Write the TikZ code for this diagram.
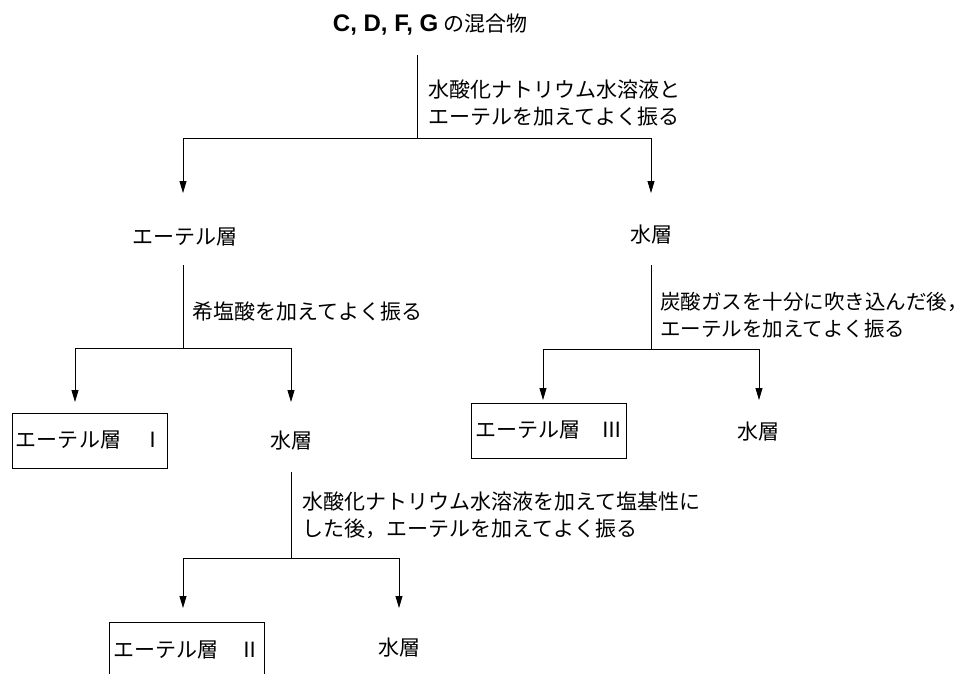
\documentclass[tikz,border=0pt]{standalone}
\usepackage{fontspec}
\setmainfont{Noto Sans CJK JP}
\newfontfamily\latinbold{Liberation Sans}
\usetikzlibrary{arrows.meta}
\begin{document}
\begin{tikzpicture}[x=1pt,y=-1pt,
  every node/.style={font=\fontsize{21}{27}\selectfont, inner sep=0pt},
  lab/.style={anchor=west, align=left},
  layerbox/.style={draw, line width=0.8pt, minimum width=155pt, minimum height=55pt},
  conn/.style={line width=0.8pt},
  arr/.style={conn, -{Triangle[length=12pt,width=7pt]}}]
\useasboundingbox (0,0) rectangle (973,673);
% nodes
\node (mix) at (430,25) {{\latinbold\bfseries\fontsize{24}{28}\selectfont C, D, F, G} の混合物};
\node[lab] (l1) at (428,103) {水酸化ナトリウム水溶液と\\エーテルを加えてよく振る};
\node (ether1) at (185,237) {エーテル層};
\node (water1) at (651,235) {水層};
\node[lab] (l2) at (192,311) {希塩酸を加えてよく振る};
\node[layerbox] (box1) at (89.5,440.5) {エーテル層　Ⅰ};
\node (water2) at (291,441) {水層};
\node[lab, font=\fontsize{20.5}{27}\selectfont] (l3) at (660,315) {炭酸ガスを十分に吹き込んだ後，\\エーテルを加えてよく振る};
\node[layerbox] (box3) at (548.5,430.5) {エーテル層　Ⅲ};
\node (water3) at (758,432) {水層};
\node[lab] (l4) at (302,515) {水酸化ナトリウム水溶液を加えて塩基性に\\した後，エーテルを加えてよく振る};
\node[layerbox, minimum height=56pt] (box2) at (187,650) {エーテル層　Ⅱ};
\node (water4) at (399,648) {水層};
% coordinates
\coordinate (s0) at (417,55);
\coordinate (j0) at (417,138);
\coordinate (e0a) at (183,193);
\coordinate (e0b) at (651,193);
\coordinate (s1) at (183,265);
\coordinate (j1) at (183,348);
\coordinate (e1a) at (75,402);
\coordinate (e1b) at (291,402);
\coordinate (s2) at (651,265);
\coordinate (j2) at (651,349);
\coordinate (e2a) at (543,400);
\coordinate (e2b) at (759,400);
\coordinate (s3) at (291,472);
\coordinate (j3) at (291,558);
\coordinate (e3a) at (183,608);
\coordinate (e3b) at (399,608);
% connectors
\draw[conn] (s0) -- (j0);
\draw[arr] (j0) -| (e0a);
\draw[arr] (j0) -| (e0b);
\draw[conn] (s1) -- (j1);
\draw[arr] (j1) -| (e1a);
\draw[arr] (j1) -| (e1b);
\draw[conn] (s2) -- (j2);
\draw[arr] (j2) -| (e2a);
\draw[arr] (j2) -| (e2b);
\draw[conn] (s3) -- (j3);
\draw[arr] (j3) -| (e3a);
\draw[arr] (j3) -| (e3b);
\end{tikzpicture}
\end{document}
